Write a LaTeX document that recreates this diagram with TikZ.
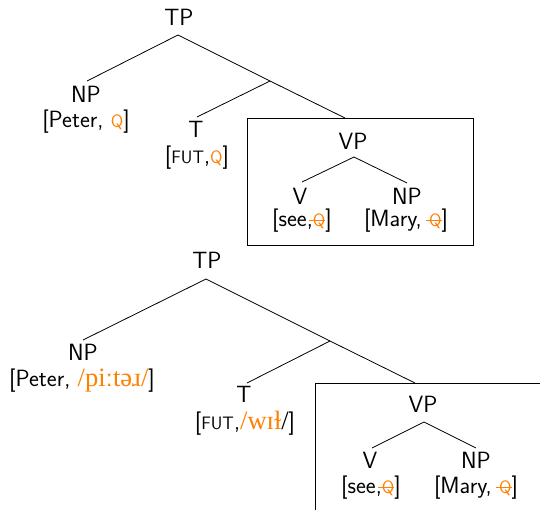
\documentclass[tikz,border=0pt]{standalone}
\usepackage{fontspec}
\newfontfamily\ipafont{Liberation Serif}
\definecolor{qorange}{RGB}{255,128,0}
\newcommand\fsc[1]{{\fontsize{18}{18}\selectfont #1}}
\newcommand\qq{\textcolor{qorange}{\fsc{Q}}}
\newcommand\qs{\makebox[0pt][l]{\hspace{-3.5pt}\textcolor{qorange}{\rule[5.8pt]{16pt}{0.9pt}}}\qq}
\newcommand\ipa[1]{{\ipafont\fontsize{26.5}{26.5}\selectfont #1}}
\tikzset{
  lbl/.style={font=\sffamily\fontsize{23.5}{27}\selectfont, inner sep=0pt, anchor=center},
  branch/.style={line width=0.8pt},
  phrasebox/.style={draw, line width=0.8pt}
}
\begin{document}
\begin{tikzpicture}[x=1pt,y=-1pt]
\clip (0,0) rectangle (540,509);
\fill[white] (0,0) rectangle (540,509);
% ---------- top tree ----------
\node[lbl] (tp1) at (179,17) {TP};
\node[lbl] (np1) at (86,94) {NP};
\node[lbl] (np1f) at (86,122) {[Peter, \qq]};
\node[lbl] (t1) at (196,129) {T};
\node[lbl] (t1f) at (197,157.5) {[\fsc{FUT},\qq]};
\draw[phrasebox] (247,118) rectangle (473,245);
\node[lbl] (vp1) at (353,141) {VP};
\node[lbl] (v1) at (300,196) {V};
\node[lbl] (v1f) at (302,221) {[see,\qs]};
\node[lbl] (np1b) at (407,196) {NP};
\node[lbl] (np1bf) at (406,221) {[Mary, \qs]};
\coordinate (a1) at (178,35);
\coordinate (b1) at (87,81);
\coordinate (j1) at (270,81);
\coordinate (c1) at (197,117);
\coordinate (d1) at (345,118);
\coordinate (e1) at (354,157);
\coordinate (f1) at (302,182);
\coordinate (g1) at (407,183);
\draw[branch] (a1) -- (b1);
\draw[branch] (a1) -- (j1) -- (d1);
\draw[branch] (j1) -- (c1);
\draw[branch] (f1) -- (e1) -- (g1);
% ---------- bottom tree ----------
\node[lbl] (tp2) at (207,260) {TP};
\node[lbl] (np2) at (83,352) {NP};
\node[lbl] (np2f) at (82,381) {[Peter, \ipa{\color{qorange}/piːtəɹ/}]};
\node[lbl] (t2) at (244,394) {T};
\node[lbl] (t2f) at (245,423) {[\fsc{FUT},\ipa{\textcolor{qorange}{/wɪɫ}/}]};
\draw[phrasebox] (315,383) rectangle (541,510);
\node[lbl] (vp2) at (423,404) {VP};
\node[lbl] (v2) at (370,460) {V};
\node[lbl] (v2f) at (371,488) {[see,\qs]};
\node[lbl] (np2b) at (476,460) {NP};
\node[lbl] (np2bf) at (476,488) {[Mary, \qs]};
\coordinate (a2) at (206,279);
\coordinate (b2) at (83,340);
\coordinate (j2) at (330,341);
\coordinate (c2) at (247,383);
\coordinate (d2) at (415,383);
\coordinate (e2) at (424,422);
\coordinate (f2) at (372,448);
\coordinate (g2) at (476,448);
\draw[branch] (a2) -- (b2);
\draw[branch] (a2) -- (j2) -- (d2);
\draw[branch] (j2) -- (c2);
\draw[branch] (f2) -- (e2) -- (g2);
\end{tikzpicture}
\end{document}
